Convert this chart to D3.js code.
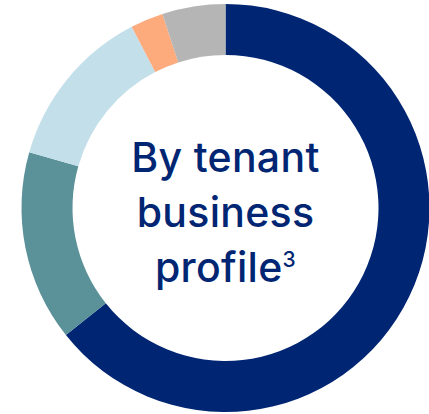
<!DOCTYPE html>
<html>
<head>
<meta charset="utf-8">
<script src="https://cdn.jsdelivr.net/npm/d3@7"></script>
<style>
  html, body { margin: 0; padding: 0; background: #fff; }
  svg { display: block; }
</style>
</head>
<body>
<div id="chart"></div>
<script>
// tenant business profile shares (%), clockwise from 12 o'clock
const segments = ['Segment 1', 'Segment 2', 'Segment 3', 'Segment 4', 'Segment 5'];
const shares = [64.3, 15.1, 13.0, 2.6, 5.0];
const colours = ['#002673', '#5b9198', '#c3dfea', '#fdaa7c', '#b5b5b5'];
const titleLines = ['By tenant', 'business', 'profile'];
const footnote = '3';

const width = 429;
const height = 414;
const cx = 225.5;
const cy = 208;
const outerR = 204;
const innerR = 153;

const svg = d3.select('#chart')
  .append('svg')
  .attr('width', width)
  .attr('height', height);

const g = svg.append('g')
  .attr('transform', `translate(${cx},${cy})`);

const data = segments.map((name, i) => ({ name, value: shares[i] }));

const pie = d3.pie()
  .sort(null)
  .value((d) => d.value);

const arc = d3.arc()
  .innerRadius(innerR)
  .outerRadius(outerR);

g.selectAll('.slice')
  .data(pie(data))
  .enter()
  .append('path')
  .attr('class', 'slice')
  .attr('d', arc)
  .attr('fill', (d, i) => colours[i]);

// centre label
const label = g.append('text')
  .attr('text-anchor', 'middle')
  .attr('fill', '#002673')
  .style('font-family', 'Inter, "Noto Sans", sans-serif')
  .style('font-weight', 500)
  .style('font-size', '41px')
  .style('letter-spacing', '0.3px');

titleLines.forEach((line, i) => {
  const t = label.append('tspan')
    .attr('x', 0)
    .attr('y', -36.5 + i * 55)
    .text(line);
  if (i === titleLines.length - 1) {
    t.append('tspan')
      .attr('dy', -15)
      .style('font-size', '21px')
      .text(footnote);
  }
});
</script>
</body>
</html>
